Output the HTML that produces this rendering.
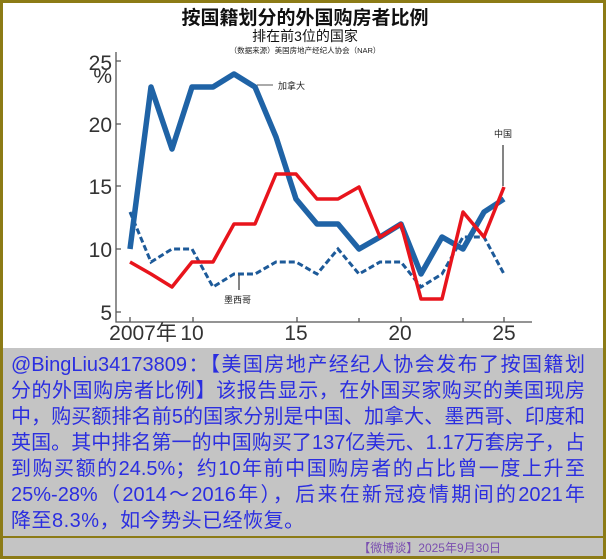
<!DOCTYPE html>
<html><head><meta charset="utf-8"><style>
html,body{margin:0;padding:0}
body{width:606px;height:559px;position:relative;background:#8c7b16;overflow:hidden;font-family:"Liberation Sans","Noto Sans CJK SC",sans-serif}
#chart{position:absolute;left:3px;top:3px;width:600px;height:345px;background:#fff}
#txt{position:absolute;left:3px;top:348px;width:600px;height:188px;background:#c4c4c4}
#ft{position:absolute;left:3px;top:538px;width:600px;height:18px;background:#c4c4c4}
.l{position:absolute;left:8px;width:574px;font-size:20px;line-height:26px;color:#2b2ee0;white-space:nowrap;text-align:justify;text-align-last:justify}
</style></head><body>
<div id="chart">
<svg width="600" height="345" viewBox="3 3 600 345" style="position:absolute;left:0;top:0">
<text x="305" y="24" font-size="19" font-weight="bold" text-anchor="middle" fill="#111">按国籍划分的外国购房者比例</text>
<text x="305" y="41" font-size="14" text-anchor="middle" fill="#111">排在前3位的国家</text>
<text x="305" y="53" font-size="7.5" text-anchor="middle" fill="#222">（数据来源）美国房地产经纪人协会（NAR）</text>
<g stroke="#555" stroke-width="1.3" fill="none">
<path d="M116 52 V322 H532"/>
<path d="M116 61 h5 M116 124 h5 M116 186 h5 M116 249 h5 M116 312 h5"/>
<path d="M130 322 v-5 M193 322 v-5 M297 322 v-5 M401 322 v-5 M504 322 v-5 M359 322 v-4 M463 322 v-4"/>
</g>
<g font-size="21" fill="#333" text-anchor="end">
<text x="112" y="70">25</text><text x="112" y="83">%</text>
<text x="112" y="132">20</text><text x="112" y="194">15</text>
<text x="112" y="257">10</text><text x="112" y="320">5</text>
</g>
<g font-size="21" fill="#333" text-anchor="middle">
<text x="143" y="340">2007年</text><text x="192" y="340">10</text>
<text x="296" y="340">15</text><text x="400" y="340">20</text><text x="504" y="340">25</text>
</g>
<polyline fill="none" stroke="#1d5a99" stroke-width="3" stroke-dasharray="6,3" points="130,212 151,262 172,249 192,249 213,287 234,274 255,274 276,262 296,262 317,274 338,249 359,274 380,262 401,262 421,287 442,274 463,237 484,237 504,274"/>
<polyline fill="none" stroke="#1f63a6" stroke-width="5.5" stroke-linejoin="round" points="130,249 151,87 172,149 192,87 213,87 234,74 255,87 276,137 296,199 317,224 338,224 359,249 380,237 401,224 421,274 442,237 463,249 484,212 504,199"/>
<polyline fill="none" stroke="#e8141c" stroke-width="3.5" stroke-linejoin="round" points="130,262 151,274 172,287 192,262 213,262 234,224 255,224 276,174 296,174 317,199 338,199 359,187 380,237 401,224 421,299 442,299 463,212 484,237 504,187"/>
<path d="M257 85 H273" stroke="#555" stroke-width="1"/>
<text x="278" y="89" font-size="9" fill="#222">加拿大</text>
<path d="M239 275 V290" stroke="#333" stroke-width="1.2"/>
<text x="224" y="303" font-size="9" fill="#222">墨西哥</text>
<text x="503" y="137" font-size="9" fill="#222" text-anchor="middle">中国</text>
<path d="M503 145 V186" stroke="#333" stroke-width="1.2"/>
</svg>
</div>
<div id="txt">
<div class="l" style="top:4px">@BingLiu34173809：【美国房地产经纪人协会发布了按国籍划</div>
<div class="l" style="top:30px">分的外国购房者比例】该报告显示，在外国买家购买的美国现房</div>
<div class="l" style="top:56px">中，购买额排名前5的国家分别是中国、加拿大、墨西哥、印度和</div>
<div class="l" style="top:82px">英国。其中排名第一的中国购买了137亿美元、1.17万套房子，占</div>
<div class="l" style="top:108px">到购买额的24.5%；约10年前中国购房者的占比曾一度上升至</div>
<div class="l" style="top:134px">25%-28%（2014～2016年），后来在新冠疫情期间的2021年</div>
<div class="l" style="top:160px;width:auto;text-align:left;text-align-last:left;letter-spacing:0.5px">降至8.3%，如今势头已经恢复。</div>
</div>
<div id="ft"><div style="position:absolute;right:102px;top:1px;font-size:12px;color:#7a4fb0">【微博谈】2025年9月30日</div></div>
</body></html>
